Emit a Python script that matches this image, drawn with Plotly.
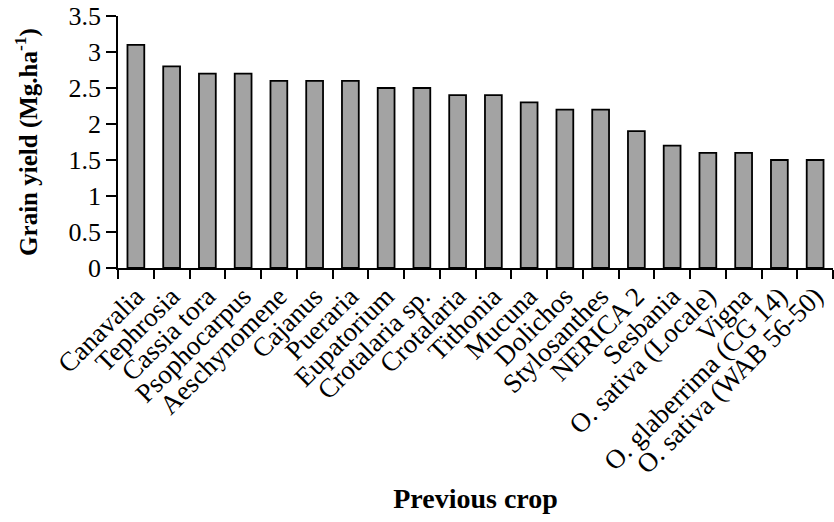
import plotly.graph_objects as go

crops = ["Canavalia", "Tephrosia", "Cassia tora", "Psophocarpus", "Aeschynomene",
         "Cajanus", "Pueraria", "Eupatorium", "Crotalaria sp.", "Crotalaria",
         "Tithonia", "Mucuna", "Dolichos", "Stylosanthes", "NERICA 2", "Sesbania",
         "O. sativa (Locale)", "Vigna", "O. glaberrima (CG 14)", "O. sativa (WAB 56-50)"]
yield_vals = [3.1, 2.8, 2.7, 2.7, 2.6, 2.6, 2.6, 2.5, 2.5, 2.4,
              2.4, 2.3, 2.2, 2.2, 1.9, 1.7, 1.6, 1.6, 1.5, 1.5]
y_ticks = [0, 0.5, 1, 1.5, 2, 2.5, 3, 3.5]
y_tick_text = ["0", "0.5", "1", "1.5", "2", "2.5", "3", "3.5"]

font = "Liberation Serif, Times New Roman, serif"

fig = go.Figure(go.Bar(
    x=crops, y=yield_vals, width=0.47,
    marker=dict(color="#a3a3a3", line=dict(color="black", width=1.8)),
))

fig.update_layout(
    width=834, height=522,
    margin=dict(l=118, r=1, t=16, b=254, autoexpand=False),
    paper_bgcolor="white", plot_bgcolor="white",
    font=dict(family=font, color="black"),
    showlegend=False,
    bargap=0.5,
)
fig.update_xaxes(
    type="category", range=[-0.5, 19.5],
    showline=True, linecolor="black", linewidth=1.5,
    ticks="outside", ticklen=9, tickwidth=1.5, tickcolor="black",
    tickson="boundaries", tickangle=-45,
    tickfont=dict(size=27, family=font),
    showgrid=False, automargin=False,
    title=dict(text="<b>Previous crop</b>", font=dict(size=28, family=font), standoff=10),
)
fig.update_yaxes(
    range=[0, 3.5], tickvals=y_ticks, ticktext=y_tick_text,
    showline=True, linecolor="black", linewidth=1.5,
    ticks="outside", ticklen=10, tickwidth=1.5, tickcolor="black",
    tickfont=dict(size=26, family=font),
    showgrid=False, zeroline=False, automargin=False,
    title=dict(text="<b>Grain yield (Mg.ha<sup>-1</sup>)</b>", font=dict(size=25, family=font), standoff=24),
)
fig.write_html("out.html", config={"displayModeBar": False},
               post_script="document.body.style.margin='0';")
